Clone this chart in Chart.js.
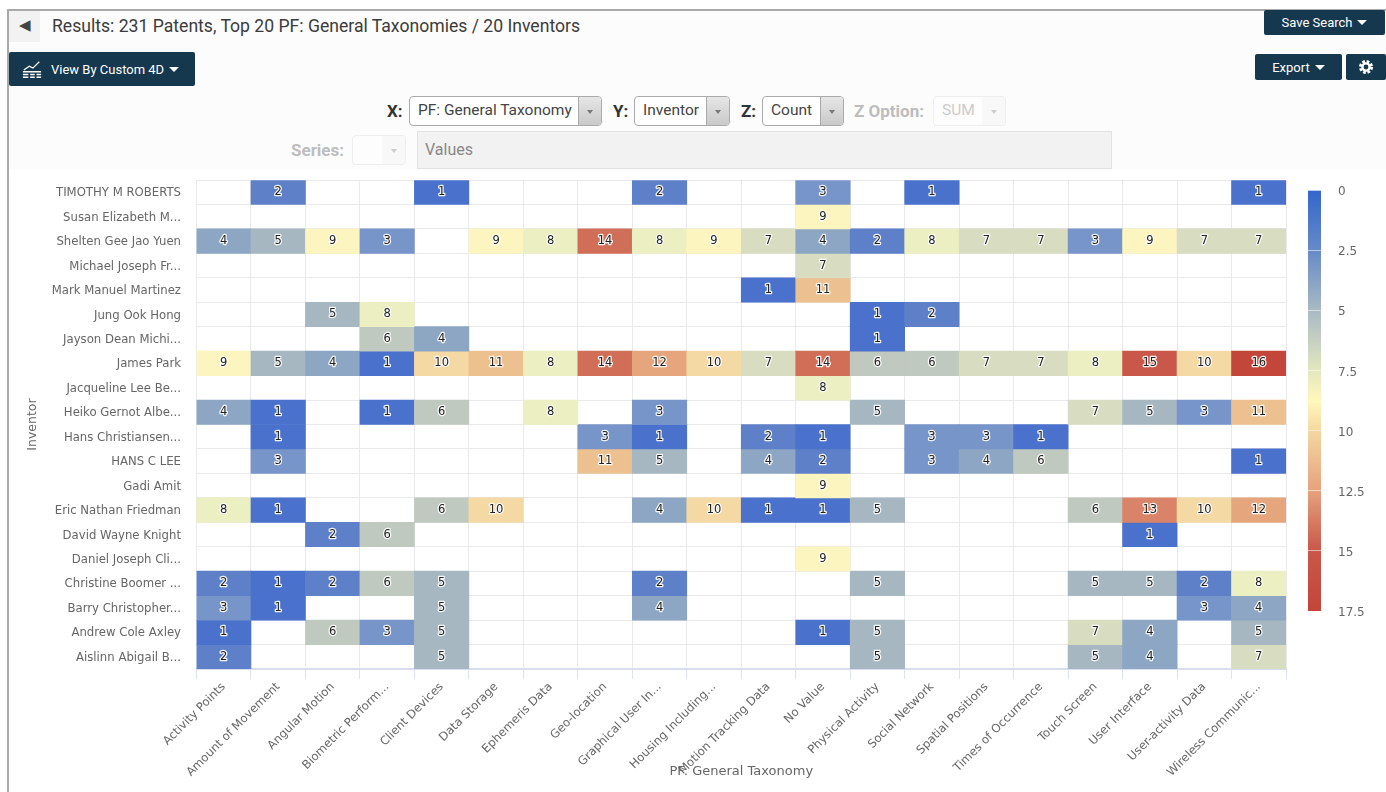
<!DOCTYPE html>
<html lang="en">
  <head>
    <meta charset="UTF-8" />
    <title>Results: 231 Patents</title>
    <script src="https://cdn.jsdelivr.net/npm/chart.js"></script>
    <style>
      html, body { margin: 0; padding: 0; background: #fff; overflow: hidden; }
      body { width: 1386px; height: 792px; position: relative; font-family: Roboto, sans-serif; color: #333; }
      .abs { position: absolute; white-space: nowrap; box-sizing: border-box; }
      .panel { left: 8px; top: 10px; width: 1378px; height: 160px; background: #fcfcfc; }
      .top-line { left: 7px; top: 9px; width: 1379px; height: 2px; background: #a9a9a9; }
      .left-line { left: 7px; top: 9px; width: 2px; height: 783px; background: #a9a9a9; }
      .back { left: 9px; top: 11px; width: 31px; height: 31px; background: #f2f2f2; color: #444; font-size: 15px; line-height: 29px; text-align: center; }
      .title { left: 52px; top: 15px; font-size: 17.6px; line-height: 22px; color: #3b3b3b; }
      .btn { background: #15384f; color: #fff; border-radius: 2px; font-size: 13px; display: flex; align-items: center; justify-content: center; }
      .caret { display: inline-block; width: 0; height: 0; border-left: 5px solid transparent; border-right: 5px solid transparent; border-top: 5px solid #fff; margin-left: 5px; }
      .lab { font-size: 17px; font-weight: 700; line-height: 22px; }
      .lab.off { color: #bdbdbd; }
      .sel { height: 30px; border: 1px solid #aaa; border-radius: 4px; background: #fff; font-size: 15.5px; line-height: 27px; padding-left: 8px; color: #444; overflow: hidden; }
      .sel i { position: absolute; right: 0; top: 0; bottom: 0; width: 22px; background: linear-gradient(#e6e6e6, #c9c9c9); border-left: 1px solid #aaa; }
      .sel i::after { content: ""; position: absolute; left: 8px; top: 13px; border-left: 3px solid transparent; border-right: 3px solid transparent; border-top: 4px solid #777; }
      .sel.off { border-color: #eee; color: #ccc; background: #fdfdfd; }
      .sel.off i { background: #f8f8f8; border-left: 1px solid #f8f8f8; }
      .sel.off i::after { border-top-color: #ccc; }
      .values { left: 417px; top: 131px; width: 695px; height: 38px; background: #f2f2f2; border: 1px solid #e2e2e2; color: #888; font-size: 16px; line-height: 35px; padding-left: 7px; }
      #heatmap { position: absolute; left: 0; top: 0; }
      #colorbar { position: absolute; left: 1300px; top: 170px; }
    </style>
  </head>
  <body>
    <div class="abs panel"></div>
    <div class="abs top-line"></div>
    <div class="abs left-line"></div>
    <div class="abs back">◀</div>
    <div class="abs title">Results: 231 Patents, Top 20 PF: General Taxonomies / 20 Inventors</div>
    <div class="abs btn" style="left:1264px;top:10px;width:121px;height:25px">Save Search<span class="caret"></span></div>
    <div class="abs btn" style="left:1255px;top:54px;width:87px;height:26px">Export<span class="caret"></span></div>
    <div class="abs btn" style="left:1346px;top:54px;width:40px;height:26px">
      <svg width="16" height="16" viewBox="0 0 16 16">
        <circle cx="8" cy="8" r="5.5" fill="none" stroke="#fff" stroke-width="3" stroke-dasharray="2.6 1.72" />
        <circle cx="8" cy="8" r="3.6" fill="none" stroke="#fff" stroke-width="2.4" />
      </svg>
    </div>
    <div class="abs btn" style="left:9px;top:52px;width:186px;height:34px;justify-content:flex-start;padding-left:13px">
      <svg width="20" height="20" viewBox="0 0 22 20" style="margin-right:9px">
        <path d="M2 11 L8 7 L12 9 L19 2" stroke="#fff" stroke-width="1.4" fill="none" />
        <path d="M1 13h20M1 16h6M9 16h5M16 16h5M1 19h6M9 19h5M16 19h5" stroke="#fff" stroke-width="1.6" />
      </svg>
      View By Custom 4D<span class="caret"></span>
    </div>

    <div class="abs lab" style="left:387px;top:100px">X:</div>
    <div class="abs sel" style="left:409px;top:96px;width:193px">PF: General Taxonomy<i></i></div>
    <div class="abs lab" style="left:613px;top:100px">Y:</div>
    <div class="abs sel" style="left:634px;top:96px;width:96px">Inventor<i></i></div>
    <div class="abs lab" style="left:741px;top:100px">Z:</div>
    <div class="abs sel" style="left:762px;top:96px;width:82px">Count<i></i></div>
    <div class="abs lab off" style="left:854px;top:100px">Z Option:</div>
    <div class="abs sel off" style="left:933px;top:96px;width:73px">SUM<i></i></div>
    <div class="abs lab off" style="left:291px;top:139px">Series:</div>
    <div class="abs sel off" style="left:352px;top:135px;width:54px"><i></i></div>
    <div class="abs values">Values</div>

    <canvas id="heatmap" width="1386" height="792"></canvas>
    <canvas id="colorbar" width="86" height="460"></canvas>

    <script>
      const taxonomies = [
        "Activity Points", "Amount of Movement", "Angular Motion", "Biometric Perform...",
        "Client Devices", "Data Storage", "Ephemeris Data", "Geo-location",
        "Graphical User In...", "Housing Including...", "Motion Tracking Data", "No Value",
        "Physical Activity", "Social Network", "Spatial Positions", "Times of Occurrence",
        "Touch Screen", "User Interface", "User-activity Data", "Wireless Communic...",
      ];

      const inventors = [
        "TIMOTHY M ROBERTS", "Susan Elizabeth M...", "Shelten Gee Jao Yuen", "Michael Joseph Fr...",
        "Mark Manuel Martinez", "Jung Ook Hong", "Jayson Dean Michi...", "James Park",
        "Jacqueline Lee Be...", "Heiko Gernot Albe...", "Hans Christiansen...", "HANS C LEE",
        "Gadi Amit", "Eric Nathan Friedman", "David Wayne Knight", "Daniel Joseph Cli...",
        "Christine Boomer ...", "Barry Christopher...", "Andrew Cole Axley", "Aislinn Abigail B...",
      ];

      // one row per inventor, one column per taxonomy, 0 = empty cell
      const counts = [
        [0, 2, 0, 0, 1, 0, 0, 0, 2, 0, 0, 3, 0, 1, 0, 0, 0, 0, 0, 1],
        [0, 0, 0, 0, 0, 0, 0, 0, 0, 0, 0, 9, 0, 0, 0, 0, 0, 0, 0, 0],
        [4, 5, 9, 3, 0, 9, 8, 14, 8, 9, 7, 4, 2, 8, 7, 7, 3, 9, 7, 7],
        [0, 0, 0, 0, 0, 0, 0, 0, 0, 0, 0, 7, 0, 0, 0, 0, 0, 0, 0, 0],
        [0, 0, 0, 0, 0, 0, 0, 0, 0, 0, 1, 11, 0, 0, 0, 0, 0, 0, 0, 0],
        [0, 0, 5, 8, 0, 0, 0, 0, 0, 0, 0, 0, 1, 2, 0, 0, 0, 0, 0, 0],
        [0, 0, 0, 6, 4, 0, 0, 0, 0, 0, 0, 0, 1, 0, 0, 0, 0, 0, 0, 0],
        [9, 5, 4, 1, 10, 11, 8, 14, 12, 10, 7, 14, 6, 6, 7, 7, 8, 15, 10, 16],
        [0, 0, 0, 0, 0, 0, 0, 0, 0, 0, 0, 8, 0, 0, 0, 0, 0, 0, 0, 0],
        [4, 1, 0, 1, 6, 0, 8, 0, 3, 0, 0, 0, 5, 0, 0, 0, 7, 5, 3, 11],
        [0, 1, 0, 0, 0, 0, 0, 3, 1, 0, 2, 1, 0, 3, 3, 1, 0, 0, 0, 0],
        [0, 3, 0, 0, 0, 0, 0, 11, 5, 0, 4, 2, 0, 3, 4, 6, 0, 0, 0, 1],
        [0, 0, 0, 0, 0, 0, 0, 0, 0, 0, 0, 9, 0, 0, 0, 0, 0, 0, 0, 0],
        [8, 1, 0, 0, 6, 10, 0, 0, 4, 10, 1, 1, 5, 0, 0, 0, 6, 13, 10, 12],
        [0, 0, 2, 6, 0, 0, 0, 0, 0, 0, 0, 0, 0, 0, 0, 0, 0, 1, 0, 0],
        [0, 0, 0, 0, 0, 0, 0, 0, 0, 0, 0, 9, 0, 0, 0, 0, 0, 0, 0, 0],
        [2, 1, 2, 6, 5, 0, 0, 0, 2, 0, 0, 0, 5, 0, 0, 0, 5, 5, 2, 8],
        [3, 1, 0, 0, 5, 0, 0, 0, 4, 0, 0, 0, 0, 0, 0, 0, 0, 0, 3, 4],
        [1, 0, 6, 3, 5, 0, 0, 0, 0, 0, 0, 1, 5, 0, 0, 0, 7, 4, 0, 5],
        [2, 0, 0, 0, 5, 0, 0, 0, 0, 0, 0, 0, 5, 0, 0, 0, 5, 4, 0, 7],
      ];

      const legendTicks = [0, 2.5, 5, 7.5, 10, 12.5, 15, 17.5];

      // cell colour by count, index 0 unused
      const countColors = [
        null, "#4a71cc", "#5e80c9", "#7795c9", "#8da6c3", "#a6b7c1", "#bfc9bf", "#d8dcc0",
        "#ecefc1", "#fdf5bf", "#f5d9a4", "#ecc18f", "#e5a67e", "#d98468", "#d06e58", "#ca584a", "#c4463a",
      ];

      const fontFamily = "'DejaVu Sans', sans-serif";

      // white-halo number in the middle of every filled cell
      const cellLabels = {
        id: "cellLabels",
        afterDatasetsDraw(chart) {
          const c = chart.ctx;
          c.save();
          c.font = "11.5px " + fontFamily;
          c.textAlign = "center";
          c.textBaseline = "middle";
          c.lineJoin = "round";
          chart.data.datasets.forEach((ds, r) => {
            chart.getDatasetMeta(r).data.forEach((bar, i) => {
              const v = counts[r][i];
              if (!v) return;
              const p = bar.getProps(["x", "y", "base"], true);
              const y = (p.y + p.base) / 2;
              c.lineWidth = 2.5;
              c.strokeStyle = "rgba(255,255,255,0.9)";
              c.strokeText(v, p.x, y);
              c.fillStyle = "#222";
              c.fillText(v, p.x, y);
            });
          });
          c.restore();
        },
      };

      new Chart(document.getElementById("heatmap"), {
        type: "bar",
        data: {
          labels: taxonomies,
          datasets: counts.map((row, r) => ({
            label: inventors[r],
            data: row.map((v) => (v ? [r, r + 1] : null)),
            backgroundColor: row.map((v) => countColors[v] || "transparent"),
            grouped: false,
            barPercentage: 1,
            categoryPercentage: 1,
          })),
        },
        options: {
          responsive: false,
          animation: false,
          layout: { padding: { left: 25, top: 180, right: 100, bottom: 13 } },
          plugins: { legend: { display: false }, tooltip: { enabled: false } },
          scales: {
            x: {
              offset: true,
              afterFit: (scale) => { scale.height = 792 - 13 - 669; },
              grid: { offset: true, color: "#e9e9ee", tickColor: "#dde1f0", tickLength: 10, lineWidth: 1 },
              border: { color: "#d8def0", width: 2 },
              ticks: { autoSkip: false, maxRotation: 45, minRotation: 45, padding: 1, color: "#666", font: { family: fontFamily, size: 11.7 } },
              title: { display: true, text: "PF: General Taxonomy", color: "#666", font: { family: fontFamily, size: 13 }, padding: 0 },
            },
            y: {
              reverse: true,
              min: 0,
              max: inventors.length,
              afterFit: (scale) => { scale.width = 196.5 - 25; },
              grid: {
                drawTicks: false,
                color: (ctx) => (Number.isInteger(ctx.tick.value) ? "#e9e9ee" : "transparent"),
              },
              border: { display: false },
              ticks: {
                stepSize: 0.5,
                autoSkip: false,
                padding: 15.5,
                labelOffset: 1,
                color: "#666",
                font: { family: fontFamily, size: 11.7 },
                callback: (v) => (Number.isInteger(v) ? "" : inventors[Math.floor(v)]),
              },
              title: { display: true, text: "Inventor", color: "#666", font: { family: fontFamily, size: 12.5 }, padding: 0 },
            },
          },
        },
        plugins: [cellLabels],
      });

      new Chart(document.getElementById("colorbar"), {
        type: "bar",
        data: {
          labels: ["Count"],
          datasets: [
            {
              data: [[legendTicks[0], legendTicks[legendTicks.length - 1]]],
              barPercentage: 1,
              categoryPercentage: 1,
              backgroundColor: (ctx) => {
                const area = ctx.chart.chartArea;
                if (!area) return "#4a71cc";
                const g = ctx.chart.ctx.createLinearGradient(0, area.top, 0, area.bottom);
                g.addColorStop(0, "#3366cc");
                g.addColorStop(0.143, "#668ac8");
                g.addColorStop(0.286, "#a9bac4");
                g.addColorStop(0.429, "#e3e7bf");
                g.addColorStop(0.5, "#fff8bc");
                g.addColorStop(0.571, "#f5d7a2");
                g.addColorStop(0.714, "#e5a27d");
                g.addColorStop(0.857, "#c9574a");
                g.addColorStop(1, "#c4453a");
                return g;
              },
            },
          ],
        },
        options: {
          responsive: false,
          animation: false,
          layout: { padding: { left: 8, top: 20, right: 0, bottom: 19 } },
          plugins: { legend: { display: false }, tooltip: { enabled: false } },
          scales: {
            x: { display: false },
            y: {
              position: "right",
              reverse: true,
              min: legendTicks[0],
              max: legendTicks[legendTicks.length - 1],
              afterFit: (scale) => { scale.width = 65; },
              afterBuildTicks: (scale) => { scale.ticks = legendTicks.map((value) => ({ value })); },
              // tick padding would also inflate the axis margins, so the label gap comes from a clear tick
              grid: { z: 1, tickLength: 17, tickColor: "transparent", color: "rgba(255,255,255,0.55)" },
              border: { display: false },
              ticks: { padding: 0, labelOffset: 2, color: "#666", font: { family: fontFamily, size: 12 } },
            },
          },
        },
      });
    </script>
  </body>
</html>
